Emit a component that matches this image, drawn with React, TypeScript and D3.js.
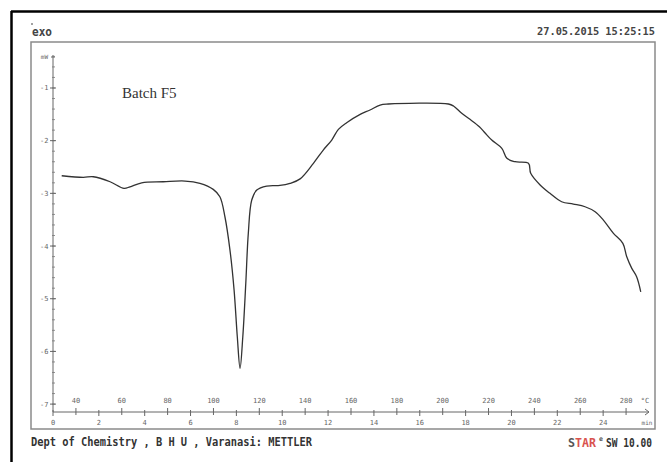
import React from "react";
import * as d3 from "d3";

// time (min) and heat flow (mW)
const timeMin = [0.38, 1.32, 1.76, 2.49, 3.1, 3.36, 3.87, 4.81, 5.76, 6.41, 6.99, 7.28, 7.5, 7.72, 7.9, 8.04, 8.16, 8.28, 8.41, 8.52, 8.67, 8.89, 9.32, 9.9, 10.34, 10.78, 11.36, 11.79, 12.16, 12.45, 12.81, 13.4, 13.83, 14.27, 14.63, 17.25, 17.47, 17.83, 18.19, 18.6, 18.85, 19.14, 19.58, 19.8, 20.16, 20.74, 20.84, 21.25, 21.68, 22.19, 22.7, 23.21, 23.65, 24.01, 24.45, 24.86, 25.03, 25.25, 25.46, 25.64];
const heatFlow = [-2.666, -2.696, -2.685, -2.78, -2.905, -2.875, -2.799, -2.78, -2.766, -2.81, -2.924, -3.064, -3.444, -4.076, -4.836, -5.722, -6.322, -5.722, -4.709, -3.759, -3.127, -2.937, -2.861, -2.85, -2.81, -2.725, -2.43, -2.178, -1.988, -1.785, -1.659, -1.5, -1.418, -1.323, -1.304, -1.304, -1.342, -1.481, -1.595, -1.735, -1.855, -1.988, -2.145, -2.335, -2.4, -2.43, -2.62, -2.842, -3.0, -3.159, -3.203, -3.254, -3.349, -3.507, -3.759, -3.949, -4.203, -4.424, -4.583, -4.868];

const yTicks = [-1, -2, -3, -4, -5, -6, -7];
const timeTicks = [0, 2, 4, 6, 8, 10, 12, 14, 16, 18, 20, 22, 24];
const tempTicks = [40, 60, 80, 100, 120, 140, 160, 180, 200, 220, 240, 260, 280];

const mono = "'DejaVu Sans Mono', 'Liberation Mono', monospace";

export default function App() {
  const x = d3.scaleLinear().domain([0, 26]).range([53, 649]);
  const xT = d3.scaleLinear().domain([30, 290]).range([53, 649]);
  const y = d3.scaleLinear().domain([0, -7.15]).range([35.3, 412]);
  const axisY = y(-7.15);
  const minorY = d3.range(-0.4, -7.1, -0.2).map((v) => Math.round(v * 10) / 10);
  const pts: [number, number][] = timeMin.map((t, i) => [x(t), y(heatFlow[i])]);
  const line = d3.line<[number, number]>().x((d) => d[0]).y((d) => d[1]).curve(d3.curveCatmullRom.alpha(0.5));

  return (
    <svg width={667} height={462} style={{ position: "fixed", left: 0, top: 0, background: "#fff" }}>
      <rect x={0} y={0} width={667} height={462} fill="#fff" />
      {/* outer black frame (top/left only visible) */}
      <line x1={11} y1={11.5} x2={667} y2={11.5} stroke="#000" strokeWidth={2.5} />
      <line x1={11.5} y1={11} x2={11.5} y2={462} stroke="#000" strokeWidth={2.5} />
      {/* inner plot frame */}
      <rect x={31} y={42} width={624} height={387} fill="none" stroke="#8a8a8a" strokeWidth={1.5} />

      {/* header texts */}
      <line x1={31} y1={24} x2={33} y2={24} stroke="#444" strokeWidth={1} />
      <text x={32} y={36} fontFamily={mono} fontWeight="bold" fontSize={12} fill="#444" textLength={20} lengthAdjust="spacingAndGlyphs">exo</text>
      <text x={537} y={35} fontFamily={mono} fontWeight="bold" fontSize={11} fill="#444" textLength={118} lengthAdjust="spacingAndGlyphs">27.05.2015 15:25:15</text>

      {/* footer texts */}
      <text x={31} y={446} fontFamily={mono} fontWeight="bold" fontSize={13} fill="#333" textLength={281} lengthAdjust="spacingAndGlyphs">Dept of Chemistry , B H U , Varanasi: METTLER</text>
      <text x={568} y={447} fontFamily={mono} fontWeight="bold" fontSize={12.5} fill="#555" textLength={7} lengthAdjust="spacingAndGlyphs">S</text>
      <text x={575} y={447} fontFamily={mono} fontWeight="bold" fontSize={12.5} fill="#d9534f" textLength={21} lengthAdjust="spacingAndGlyphs">TAR</text>
      <text x={599} y={441} fontFamily={mono} fontWeight="bold" fontSize={6.5} fill="#555">e</text>
      <text x={606} y={447} fontFamily={mono} fontWeight="bold" fontSize={12.5} fill="#333" textLength={46} lengthAdjust="spacingAndGlyphs">SW 10.00</text>

      {/* batch label */}
      <text x={122} y={98} fontFamily="'Liberation Serif', 'DejaVu Serif', serif" fontSize={15} fill="#333">Batch F5</text>

      {/* Y axis */}
      <line x1={53} y1={55} x2={53} y2={axisY} stroke="#666" strokeWidth={1} />
      <line x1={51} y1={57} x2={55} y2={57} stroke="#666" strokeWidth={1} />
      <text x={48} y={59} fontFamily={mono} fontSize={6} fill="#666" textAnchor="end">mW</text>
      {minorY.map((v) => (
        <line key={"m" + v} x1={52} y1={y(v)} x2={55} y2={y(v)} stroke="#777" strokeWidth={0.8} />
      ))}
      {yTicks.map((v) => (
        <g key={"y" + v}>
          <line x1={50} y1={y(v)} x2={56} y2={y(v)} stroke="#666" strokeWidth={1} />
          <text x={48.5} y={y(v) + 2.5} fontFamily={mono} fontSize={7} fill="#666" textAnchor="end">{v}</text>
        </g>
      ))}

      {/* X axis */}
      <line x1={53} y1={axisY} x2={649} y2={axisY} stroke="#666" strokeWidth={1} />
      <path d={`M${645},${axisY - 3} L${649},${axisY} L${645},${axisY + 3}`} fill="none" stroke="#666" strokeWidth={1} />
      {timeTicks.map((t) => (
        <g key={"t" + t}>
          <line x1={x(t)} y1={axisY - 2} x2={x(t)} y2={axisY + 4} stroke="#666" strokeWidth={1} />
          <text x={x(t)} y={axisY + 13} fontFamily={mono} fontSize={7} fill="#666" textAnchor="middle">{t}</text>
        </g>
      ))}
      {tempTicks.map((T) => (
        <g key={"T" + T}>
          <line x1={xT(T)} y1={axisY - 4} x2={xT(T)} y2={axisY + 3} stroke="#666" strokeWidth={1} />
          <text x={xT(T)} y={axisY - 9} fontFamily={mono} fontSize={7} fill="#666" textAnchor="middle">{T}</text>
        </g>
      ))}
      <text x={645} y={axisY - 9} fontFamily={mono} fontSize={7} fill="#666" textAnchor="middle">°C</text>
      <text x={647} y={axisY + 13} fontFamily={mono} fontSize={6} fill="#666" textAnchor="middle">min</text>

      {/* DSC curve */}
      <path d={line(pts) || ""} fill="none" stroke="#333" strokeWidth={1.3} />
    </svg>
  );
}
